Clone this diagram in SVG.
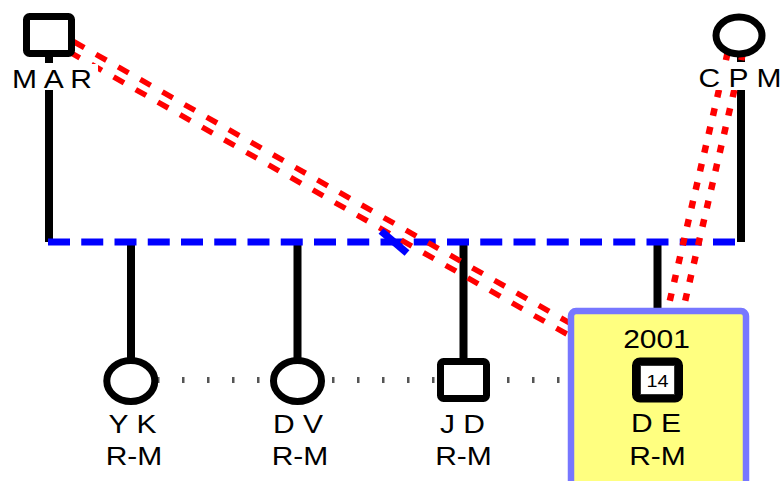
<svg xmlns="http://www.w3.org/2000/svg" width="780" height="481" viewBox="0 0 780 481">
<style>
.t{font-family:"Liberation Sans",Arial,sans-serif;font-size:25px;fill:#000;text-anchor:middle}
.s{font-family:"Liberation Sans",Arial,sans-serif;font-size:16.5px;fill:#000;text-anchor:middle}
.v{stroke:#000;stroke-width:8;fill:none}
.node{fill:#fff;stroke:#000;stroke-width:7}
.rm{stroke:#ff0000;stroke-width:5.5;fill:none;stroke-dasharray:12 13.45}
.rc{stroke:#ff0000;stroke-width:6.5;fill:none;stroke-dasharray:7.5 11.5}
</style>
<rect width="780" height="481" fill="#fff"/>
<g id="connectors">
  <line class="v" x1="49" y1="55" x2="49" y2="63"/>
  <line class="v" x1="49" y1="90" x2="49" y2="242"/>
  <line class="v" x1="741" y1="52" x2="741" y2="62"/>
  <line class="v" x1="741" y1="90" x2="741" y2="242"/>
  <line class="v" x1="131" y1="242" x2="131" y2="360"/>
  <line class="v" x1="297.5" y1="242" x2="297.5" y2="360"/>
  <line class="v" x1="463.5" y1="242" x2="463.5" y2="362"/>
  <line class="v" x1="657.5" y1="242" x2="657.5" y2="310"/>
  <line x1="48" y1="242" x2="738" y2="242" stroke="#0000ff" stroke-width="7" stroke-dasharray="22 11.25"/>
  <line x1="157" y1="380" x2="561" y2="380" stroke="#555" stroke-width="6" stroke-dasharray="2.5 22.5"/>
  <line class="rm" x1="51.7" y1="29.2" x2="661.7" y2="375.2"/>
  <line class="rm" x1="46.3" y1="38.8" x2="656.3" y2="384.8" stroke-dashoffset="-1"/>
  <line class="rc" x1="731.7" y1="35.3" x2="651.7" y2="378.3" stroke-dashoffset="1"/>
  <line class="rc" x1="746.3" y1="38.7" x2="666.3" y2="381.7" stroke-dashoffset="4.5"/>
  <line x1="381" y1="231" x2="407" y2="253" stroke="#0000ff" stroke-width="7.5"/>
</g>
<g id="MAR">
  <rect class="node" x="26.5" y="16.5" width="45" height="37" rx="3"/>
  <rect x="8" y="64" width="90" height="26" fill="#fff"/>
  <text class="t" transform="translate(52,88) scale(1.2,1)">M A R</text>
</g>
<g id="CPM">
  <ellipse class="node" cx="739" cy="35.5" rx="23" ry="18.5"/>
  <rect x="698" y="63" width="82" height="27" fill="#fff"/>
  <text class="t" transform="translate(740,87) scale(1.2,1)">C P M</text>
</g>
<g id="YK">
  <ellipse class="node" cx="130.8" cy="381" rx="24" ry="20.5"/>
  <text class="t" transform="translate(132.5,433) scale(1.2,1)">Y K</text>
  <text class="t" transform="translate(134,465) scale(1.2,1)">R-M</text>
</g>
<g id="DV">
  <ellipse class="node" cx="297.5" cy="381" rx="24" ry="20.5"/>
  <text class="t" transform="translate(298,433) scale(1.2,1)">D V</text>
  <text class="t" transform="translate(300,465) scale(1.2,1)">R-M</text>
</g>
<g id="JD">
  <rect class="node" x="440.5" y="361.5" width="46" height="37" rx="3"/>
  <text class="t" transform="translate(462.5,433) scale(1.2,1)">J D</text>
  <text class="t" transform="translate(463.5,465) scale(1.2,1)">R-M</text>
</g>
<g id="DE">
  <rect x="571" y="311" width="175" height="200" rx="5" fill="#ffff80" stroke="#7777ff" stroke-width="6.5"/>
  <text class="t" transform="translate(656.5,348) scale(1.2,1)">2001</text>
  <rect x="636" y="361.5" width="43" height="37" rx="4" fill="#fff" stroke="#000" stroke-width="8"/>
  <rect x="640.5" y="365.5" width="34" height="29" fill="#fff" stroke="#333" stroke-width="1"/>
  <text class="s" transform="translate(657.5,387) scale(1.2,1)">14</text>
  <text class="t" transform="translate(656,432) scale(1.2,1)">D E</text>
  <text class="t" transform="translate(657.5,465) scale(1.2,1)">R-M</text>
</g>
</svg>
